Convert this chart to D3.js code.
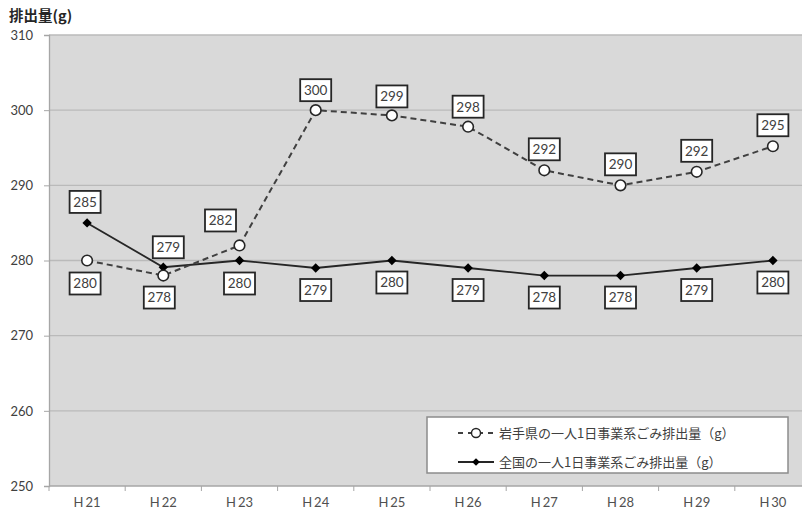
<!DOCTYPE html>
<html><head><meta charset="utf-8">
<script src="https://cdn.jsdelivr.net/npm/d3@7"></script>
<style>
body{margin:0;background:#fff;}
svg{display:block;}
</style></head>
<body>
<svg id="chart" width="802" height="516"></svg>
<script>
const categories = ["H21","H22","H23","H24","H25","H26","H27","H28","H29","H30"];
const iwateValues = [280.0, 278.0, 282.0, 300.0, 299.3, 297.8, 292.0, 290.0, 291.8, 295.2];
const iwateLabels = ["280","278","282","300","299","298","292","290","292","295"];
const nationalValues = [285, 279.1, 280, 279, 280, 279, 278, 278, 279, 280];
const nationalLabels = ["285","279","280","279","280","279","278","278","279","280"];
const yTicks = [250,260,270,280,290,300,310];
const seriesNames = ["岩手県の一人1日事業系ごみ排出量（g）","全国の一人1日事業系ごみ排出量（g）"];
const yTitle = "排出量(g)";

const svg = d3.select("#chart");
const L = 49, R = 811, T = 35, B = 486;
const x = d3.scalePoint().domain(categories).range([L, R]).padding(0.5);
const y = d3.scaleLinear().domain([250,310]).range([B, T]);
const numFont = "Lato, 'Noto Sans', sans-serif";
const jpFont = "'Noto Sans CJK JP', sans-serif";

// label placement (layout, not data): [dx, dy] offsets from each point
const iwateOff = [[-2,23],[-4,22],[-19,-25],[0,-20],[0,-19],[0,-20],[0,-21],[0,-21],[0,-21],[0,-21]];
const nationalOff = [[-2,-21],[5,-20],[0,23],[0,22],[0,22],[0,22],[0,22],[0,22],[0,22],[0,22]];

svg.append("rect").attr("x", L).attr("y", T).attr("width", R - L).attr("height", B - T).attr("fill", "#d9d9d9");

svg.append("g").selectAll("line").data(yTicks.filter(d => d > 250)).join("line")
  .attr("x1", L).attr("x2", R).attr("y1", d => y(d)).attr("y2", d => y(d))
  .attr("stroke", "#bababa").attr("stroke-width", 1.3);

const yAxis = svg.append("g").attr("transform", `translate(${L},0)`)
  .call(d3.axisLeft(y).tickValues(yTicks).tickSize(5).tickPadding(11).tickFormat(d3.format("d")));
yAxis.select(".domain").attr("stroke", "#a6a6a6").attr("stroke-width", 1.3);
yAxis.selectAll(".tick line").attr("stroke", "#a6a6a6");
yAxis.selectAll("text").attr("font-family", numFont).attr("font-size", 13).attr("fill", "#404040");

const bw = x.step();
const xAxis = svg.append("g").attr("transform", `translate(0,${B})`);
xAxis.append("line").attr("x1", L).attr("x2", R).attr("stroke", "#a6a6a6").attr("stroke-width", 1.3);
xAxis.selectAll("line.tk").data(categories).join("line").attr("class","tk")
  .attr("x1", d => x(d) - bw/2).attr("x2", d => x(d) - bw/2).attr("y1", 0).attr("y2", 5)
  .attr("stroke", "#a6a6a6");
const xt = xAxis.selectAll("text").data(categories).join("text")
  .attr("x", d => x(d)).attr("y", 21).attr("text-anchor", "middle")
  .attr("font-family", numFont).attr("font-size", 13).attr("fill", "#505050");
xt.append("tspan").text(d => d.slice(0,1));
xt.append("tspan").attr("dx", 2).text(d => d.slice(1));

svg.append("text").attr("x", 9).attr("y", 21).text(yTitle)
  .attr("font-family", jpFont).attr("font-size", 14.5).attr("font-weight", "bold").attr("fill", "#262626");

const line = d3.line().x((d,i) => x(categories[i])).y(d => y(d));
svg.append("path").datum(nationalValues).attr("d", line).attr("fill", "none")
  .attr("stroke", "#262626").attr("stroke-width", 1.8);
svg.append("path").datum(iwateValues).attr("d", line).attr("fill", "none")
  .attr("stroke", "#404040").attr("stroke-width", 2).attr("stroke-dasharray", "6,4");

svg.append("g").selectAll("path").data(nationalValues).join("path")
  .attr("d", d3.symbol().type(d3.symbolSquare).size(44)())
  .attr("transform", (d,i) => `translate(${x(categories[i])},${y(d)}) rotate(45)`)
  .attr("fill", "#000");
svg.append("g").selectAll("circle").data(iwateValues).join("circle")
  .attr("cx", (d,i) => x(categories[i])).attr("cy", d => y(d)).attr("r", 5.3)
  .attr("fill", "#fff").attr("stroke", "#262626").attr("stroke-width", 1.6);

function labels(values, texts, off) {
  const g = svg.append("g").selectAll("g").data(values).join("g")
    .attr("transform", (d,i) => `translate(${x(categories[i]) + off[i][0]},${y(d) + off[i][1]})`);
  g.append("rect").attr("x", -15.5).attr("y", -11).attr("width", 31).attr("height", 22)
    .attr("fill", "#fff").attr("stroke", "#262626").attr("stroke-width", 1.8);
  g.append("text").attr("text-anchor", "middle").attr("dy", "0.36em")
    .attr("font-family", numFont).attr("font-size", 13.5).attr("fill", "#404040")
    .text((d,i) => texts[i]);
}
labels(iwateValues, iwateLabels, iwateOff);
labels(nationalValues, nationalLabels, nationalOff);

const lg = svg.append("g");
lg.append("rect").attr("x", 427).attr("y", 417).attr("width", 361).attr("height", 56)
  .attr("fill", "#fff").attr("stroke", "#8c8c8c").attr("stroke-width", 1.5);
const ly = [433, 462];
lg.append("line").attr("x1", 458).attr("x2", 494).attr("y1", ly[0]).attr("y2", ly[0])
  .attr("stroke", "#404040").attr("stroke-width", 2).attr("stroke-dasharray", "5,5");
lg.append("circle").attr("cx", 476).attr("cy", ly[0]).attr("r", 4.5).attr("fill", "#fff")
  .attr("stroke", "#262626").attr("stroke-width", 1.4);
lg.append("line").attr("x1", 458).attr("x2", 494).attr("y1", ly[1]).attr("y2", ly[1])
  .attr("stroke", "#262626").attr("stroke-width", 1.8);
lg.append("path").attr("d", d3.symbol().type(d3.symbolSquare).size(30)())
  .attr("transform", `translate(476,${ly[1]}) rotate(45)`).attr("fill", "#000");
lg.selectAll("text").data(seriesNames).join("text")
  .attr("x", 499).attr("y", (d,i) => ly[i]).attr("dy", "0.35em")
  .attr("font-family", jpFont).attr("font-size", 13).attr("fill", "#404040").text(d => d);
</script>
</body></html>
